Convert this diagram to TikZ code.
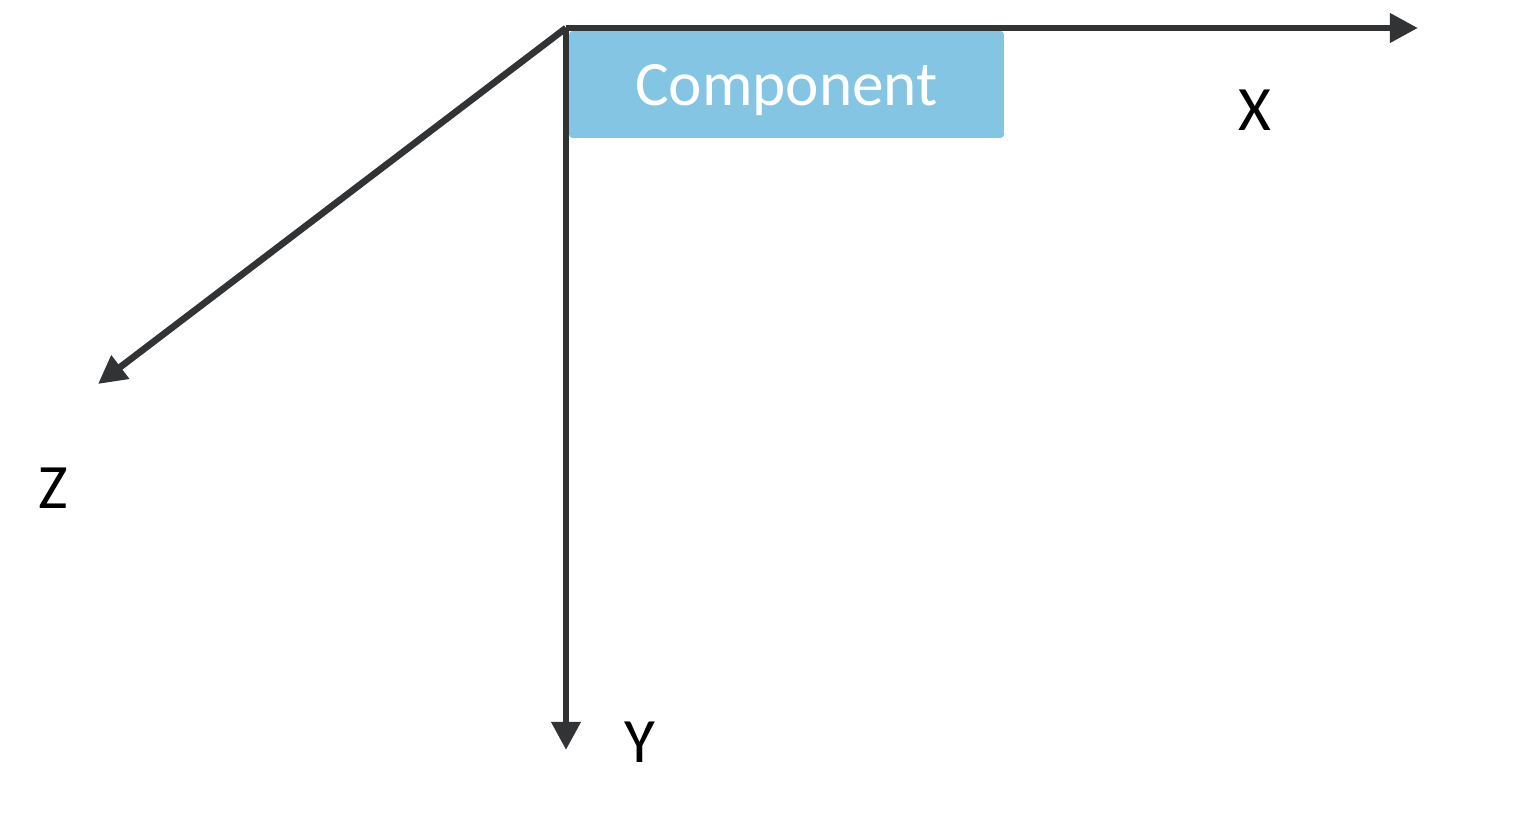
\documentclass[tikz,border=0pt]{standalone}
\usepackage{fontspec}
\setmainfont{Carlito}
\usetikzlibrary{arrows.meta}
\definecolor{compblue}{HTML}{84C5E3}
\definecolor{axisgray}{HTML}{323335}
\tikzset{
  axis/.style={draw=axisgray, line width=3.8pt, -{Triangle[length=16pt,width=16pt]}},
  axislabel/.style={font=\fontsize{36}{43}\selectfont, text=black}
}
\begin{document}
\begin{tikzpicture}[x=0.02cm, y=-0.02cm]
            \useasboundingbox (0,0) rectangle (1532,817);
            \node[fill=compblue, rounded corners=2pt, minimum width=8.7cm, minimum height=2.14cm, inner sep=0pt,
                  text depth=0pt, text=white, font=\fontsize{36}{43}\selectfont] (comp) at (786.5,84.5) {Component};
            \coordinate (origin) at (566,28);
            \coordinate (xend) at (1418,28);
            \coordinate (yend) at (566,750);
            \coordinate (zend) at (98,384);
            \draw[axis] (origin) -- (xend);
            \draw[axis] (origin) -- (yend);
            \draw[axis] (origin) -- (zend);
            \path (1255,110) node[axislabel] (xlab) {X} (640,742) node[axislabel] (ylab) {Y} (53,488) node[axislabel] (zlab) {Z};
        \end{tikzpicture}
\end{document}
